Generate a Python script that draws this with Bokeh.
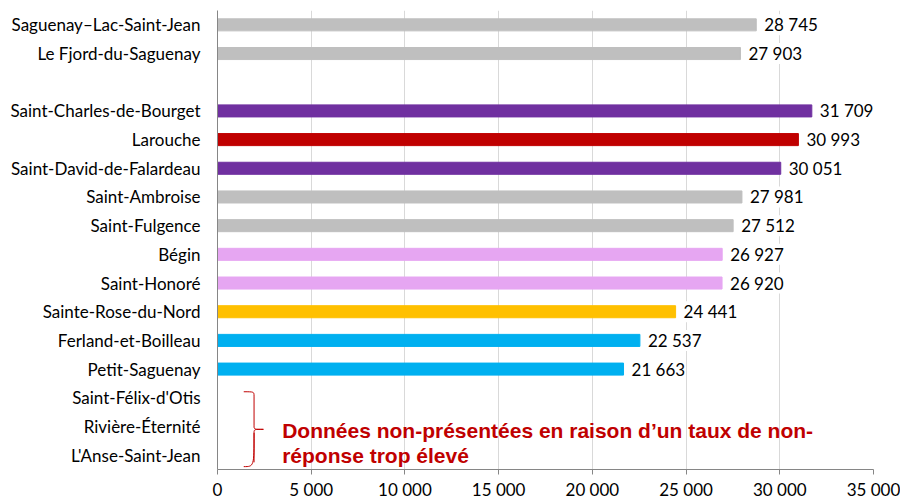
from bokeh.plotting import figure
from bokeh.models import ColumnDataSource, LabelSet, Label, FixedTicker, Range1d, CustomJSTickFormatter
from bokeh.core.properties import value
from bokeh.embed import file_html
from bokeh.resources import INLINE

categories = ["Saguenay–Lac-Saint-Jean", "Le Fjord-du-Saguenay", "",
              "Saint-Charles-de-Bourget", "Larouche", "Saint-David-de-Falardeau",
              "Saint-Ambroise", "Saint-Fulgence", "Bégin", "Saint-Honoré",
              "Sainte-Rose-du-Nord", "Ferland-et-Boilleau", "Petit-Saguenay",
              "Saint-Félix-d'Otis", "Rivière-Éternité", "L'Anse-Saint-Jean"]
values = [28745, 27903, None, 31709, 30993, 30051, 27981, 27512, 26927, 26920,
          24441, 22537, 21663, None, None, None]
colors = ["#BFBFBF", "#BFBFBF", None, "#7030A0", "#C00000", "#7030A0", "#BFBFBF",
          "#BFBFBF", "#E6A6F2", "#E6A6F2", "#FFC000", "#00B0F0", "#00B0F0",
          None, None, None]
no_data = ["Saint-Félix-d'Otis", "Rivière-Éternité", "L'Anse-Saint-Jean"]
x_ticks = [0, 5000, 10000, 15000, 20000, 25000, 30000, 35000]
note_lines = ["Données non-présentées en raison d’un taux de non-", "réponse trop élevé"]

LABEL_FONT = "Lato"

rows = list(range(len(categories)))
bar_y = [r for r, v in zip(rows, values) if v is not None]
bar_v = [v for v in values if v is not None]
bar_c = [c for c, v in zip(colors, values) if v is not None]
bar_t = [f"{v:,}".replace(",", " ") for v in bar_v]
src = ColumnDataSource(dict(y=bar_y, v=bar_v, c=bar_c, t=bar_t))

p = figure(width=900, height=502, output_backend="svg", toolbar_location=None,
           x_range=Range1d(0, 35000), y_range=Range1d(len(categories) - 0.5, -0.5),
           min_border_left=217, min_border_right=27, min_border_top=10, min_border_bottom=0)
p.outline_line_color = None
p.background_fill_color = "white"

p.hbar(y="y", right="v", left=0, height=0.42, color="c", source=src)

labels = LabelSet(x="v", y="y", text="t", source=src, x_offset=8, text_baseline="middle",
                  text_font=value(LABEL_FONT), text_font_size=value("17px"), text_color="#000000",
                  background_fill_color="white", border_line_color=None)
p.add_layout(labels)

# axes
p.xaxis.ticker = FixedTicker(ticks=x_ticks)
p.xaxis.formatter = CustomJSTickFormatter(code="return tick.toString().replace(/\\B(?=(\\d{3})+(?!\\d))/g, ' ');")
p.xaxis.axis_line_color = "#868686"
p.xaxis.major_tick_line_color = "#868686"
p.xaxis.major_tick_out = 5
p.xaxis.major_tick_in = 0
p.xaxis.minor_tick_line_color = None
p.xaxis.major_label_text_font = LABEL_FONT
p.xaxis.major_label_text_font_size = "17px"
p.xaxis.major_label_text_color = "#000000"
p.xaxis.major_label_standoff = 4

p.yaxis.ticker = FixedTicker(ticks=rows)
p.yaxis.major_label_overrides = {r: c for r, c in zip(rows, categories)}
p.yaxis.axis_line_color = "#868686"
p.yaxis.major_tick_line_color = None
p.yaxis.minor_tick_line_color = None
p.yaxis.major_label_text_font = LABEL_FONT
p.yaxis.major_label_text_font_size = "17px"
p.yaxis.major_label_text_color = "#000000"
p.yaxis.major_label_standoff = 11

p.xgrid.ticker = FixedTicker(ticks=x_ticks)
p.xgrid.grid_line_color = "#D9D9D9"
p.ygrid.grid_line_color = None

# bracket for rows without data
missing = [categories.index(c) for c in no_data]
top = missing[0] - 0.21
bot = missing[-1] + 0.4
mid = (missing[0] + missing[-1]) / 2 + 0.1
xl, xv, xt = 1400, 1950, 2450
red = "#C00000"
p.bezier(x0=[xl, xv, xt, xv], y0=[top, mid - 0.12, mid, mid + 0.12],
         x1=[xv, xt, xv, xl], y1=[top + 0.15, mid, mid + 0.12, bot],
         cx0=[xv, xv, xv, xv], cy0=[top, mid, mid, bot],
         cx1=[xv, xv, xv, xv], cy1=[top, mid, mid, bot],
         line_color=red, line_width=1)
p.segment(x0=[xv, xv], y0=[top + 0.15, mid + 0.12], x1=[xv, xv], y1=[mid - 0.12, bot - 0.15],
          line_color=red, line_width=1)

for i, line in enumerate(note_lines):
    p.add_layout(Label(x=3450, y=mid + 0.05 + i * 0.87, text=line, text_font="Liberation Sans",
                       text_font_style="bold", text_font_size="21px", text_color=red,
                       text_baseline="alphabetic"))

open("out.html", "w").write(file_html(p, INLINE))
